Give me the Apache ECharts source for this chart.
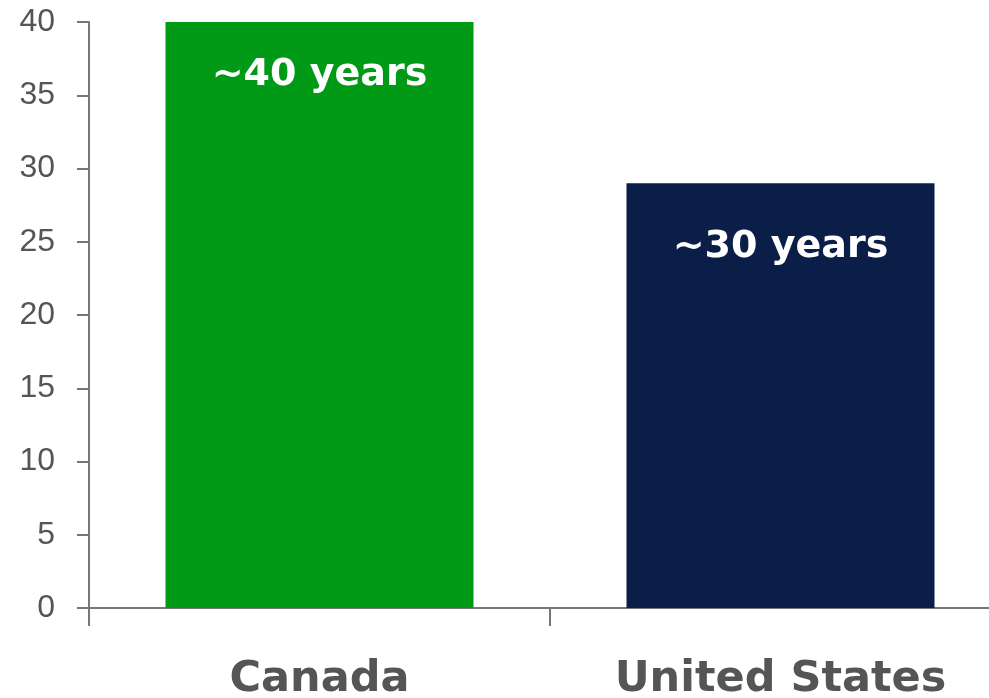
<!DOCTYPE html>
<html>
<head>
<meta charset="utf-8">
<script src="https://cdn.jsdelivr.net/npm/echarts@6/dist/echarts.min.js"></script>
<style>html,body{margin:0;padding:0;background:#fff}#c{width:989px;height:698px}</style>
</head>
<body>
<div id="c"></div>
<script>
var categories = ["Canada", "United States"];
var values = [40, 29];
var barLabels = ["~40 years", "~30 years"];
var barColors = ["#009A17", "#0A1E48"];
var yTicks = [0, 5, 10, 15, 20, 25, 30, 35, 40];

var chart = echarts.init(document.getElementById('c'), null, {renderer: 'canvas'});
var data = values.map(function (v, i) {
  return {
    value: v,
    itemStyle: {color: barColors[i]},
    label: {formatter: barLabels[i], distance: i === 0 ? 34 : 45}
  };
});
chart.setOption({
  animation: false,
  grid: {left: 89, top: 22, bottom: 90, width: 922, containLabel: false, outerBoundsMode: 'none'},
  xAxis: {
    type: 'category',
    data: categories,
    axisLine: {lineStyle: {color: '#777', width: 2}},
    axisTick: {show: true, length: 18, lineStyle: {color: '#777', width: 2}},
    axisLabel: {color: '#555', fontSize: 43, fontWeight: 'bold', fontFamily: 'DejaVu Sans', margin: 50}
  },
  yAxis: {
    type: 'value',
    min: yTicks[0],
    max: yTicks[yTicks.length - 1],
    interval: 5,
    splitLine: {show: false},
    axisLine: {show: true, lineStyle: {color: '#777', width: 2}},
    axisTick: {show: true, length: 12, lineStyle: {color: '#777', width: 2}},
    axisLabel: {color: '#555', fontSize: 32, fontFamily: 'Liberation Sans', margin: 34}
  },
  series: [{
    type: 'bar',
    data: data,
    barWidth: 308,
    label: {
      show: true,
      position: 'insideTop',
      color: '#fff',
      fontSize: 38,
      fontWeight: 'bold',
      fontFamily: 'DejaVu Sans'
    }
  }]
});
</script>
</body>
</html>
